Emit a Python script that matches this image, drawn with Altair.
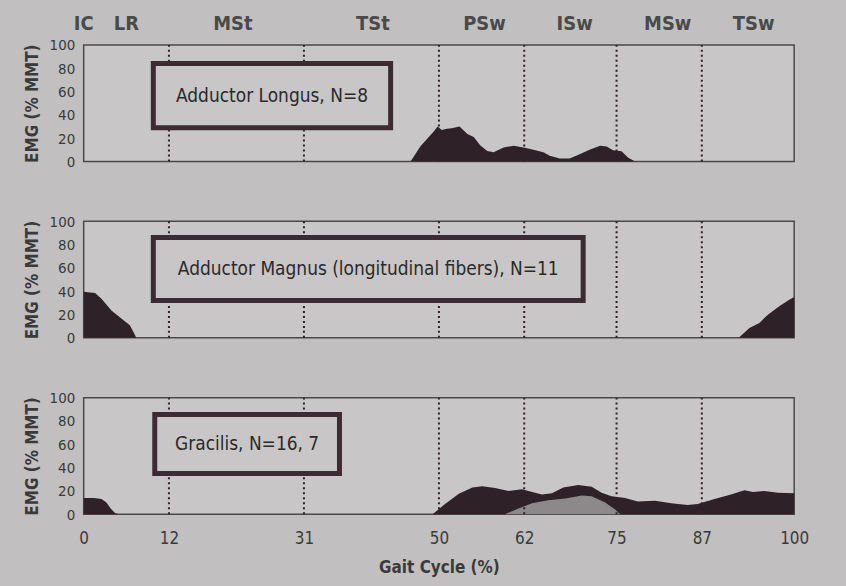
import altair as alt
import pandas as pd

# ---------------- data ----------------
tick_values = [0, 12, 31, 50, 62, 75, 87, 100]
phase_lines = [12, 31, 50, 62, 75, 87]
phase_names = ["IC", "LR", "MSt", "TSt", "PSw", "ISw", "MSw", "TSw"]
phase_pos = [0, 6, 21, 40.7, 56.4, 69.1, 82.2, 94.3]

# Adductor Longus
al_x = [46.0, 47.4, 49.3, 49.8, 50.4, 51.1, 51.8, 52.9, 54.0, 54.9, 55.8, 56.8, 57.7,
        59.1, 60.5, 61.9, 63.3, 64.7, 65.6, 67.0, 68.4, 69.8, 71.2, 72.7, 73.6, 74.5,
        75.7, 76.6, 77.6]
al_y = [0, 13, 26, 30, 27, 28, 28.5, 30, 23.5, 21, 14, 9, 8, 12, 13.5, 12, 10, 8, 4.8,
        2.6, 2.6, 6.2, 10, 13.5, 12.8, 9.6, 8.8, 3.5, 0]

# Adductor Magnus (longitudinal fibers)
am_x = [0, 1.6, 2.5, 3.9, 5.3, 6.5, 7.0, 7.4, 92.2, 93.7, 95.1, 96.3, 97.9, 99.3, 100]
am_y = [39.5, 38.5, 33.5, 23.5, 16.5, 10.8, 5, 0, 0, 8.5, 12.8, 19.9, 27, 32.6, 35]

# Gracilis (N=16, dark)
gr_x = [0, 1.5, 2.5, 3.2, 3.8, 4.4, 4.9, 49.1, 50.9, 52.8, 54.7, 56.1, 57.9, 59.8, 61.7,
        63.1, 64.5, 65.9, 67.5, 69.6, 71.5, 72.9, 74.3, 76.2, 78.0, 80.4, 82.7, 85.0,
        86.4, 88.8, 91.1, 93.0, 94.2, 95.8, 97.7, 100]
gr_y = [14, 14, 13, 10, 5, 1, 0, 0, 9, 17.5, 23, 24, 22.5, 20, 21.5, 19, 17, 18, 23, 25,
        23.5, 18.5, 15.5, 14, 11, 11.5, 9.5, 8, 8.8, 13, 17, 20.5, 19, 20, 18.5, 18]

# Gracilis (N=7, gray)
gr2_x = [59.3, 61.2, 63.1, 65.4, 67.8, 70.1, 71.5, 73.4, 74.8, 75.5]
gr2_y = [0, 5, 9.5, 12, 13.5, 16, 15.5, 10, 4, 0]

# label boxes: (x1, x2, y1, y2, text)
box_al = [9.8, 43.2, 29, 84, "Adductor Longus, N=8"]
box_am = [9.8, 70.3, 32, 86, "Adductor Magnus (longitudinal fibers), N=11"]
box_gr = [10.0, 36.0, 35, 85.5, "Gracilis, N=16, 7"]

# ---------------- style ----------------
FONT = "DejaVu Sans Condensed, Liberation Sans Narrow, Liberation Sans, sans-serif"
BG = "#c1bfbf"
VIEW = "#c8c6c6"
DARK = "#2e2228"
GRAY = "#8d888a"
TXT = "#3a3a3a"
W, H = 713, 117

xscale = alt.Scale(domain=[0, 100], nice=False, zero=False)
yscale = alt.Scale(domain=[0, 100], nice=False)

Y_AXIS = alt.Axis(values=[0, 20, 40, 60, 80, 100], title="EMG (% MMT)", grid=False,
                  ticks=False, domain=False, labelPadding=9, labelFont=FONT,
                  labelFontSize=15, labelColor=TXT, titleFont=FONT, titleFontSize=17,
                  titleFontWeight="bold", titleColor=TXT, titlePadding=8)
X_AXIS_FULL = alt.Axis(values=tick_values, title="Gait Cycle (%)", grid=False,
                       ticks=False, domain=False, labelPadding=16, labelFont=FONT,
                       labelFontSize=17, labelColor=TXT, titleFont=FONT,
                       titleFontSize=17, titleFontWeight="bold", titleColor=TXT,
                       titlePadding=13, labelFlush=False)
X_AXIS_BARE = alt.Axis(values=tick_values, title=None, labels=False, ticks=False,
                       grid=False, domain=False)


def panel(layers_data, box, show_x=False, top=False):
    xa = X_AXIS_FULL if show_x else X_AXIS_BARE

    def X(f):
        return alt.X(f, scale=xscale, axis=xa)

    def Y(f):
        return alt.Y(f, scale=yscale, axis=Y_AXIS)

    layers = []
    for xs, ys, col in layers_data:
        df = pd.DataFrame({"x": xs, "y": ys})
        layers.append(
            alt.Chart(df).mark_area(color=col, opacity=1, interpolate="linear").encode(
                x=X("x:Q"), y=Y("y:Q"))
        )
    rules = alt.Chart(pd.DataFrame({"x": phase_lines})).mark_rule(
        color=DARK, strokeDash=[2, 3], strokeWidth=2
    ).encode(x=X("x:Q"))
    bdf = pd.DataFrame({"x1": [box[0]], "x2": [box[1]], "y1": [box[2]], "y2": [box[3]],
                        "xm": [(box[0] + box[1]) / 2], "ym": [(box[2] + box[3]) / 2],
                        "t": [box[4]]})
    rect = alt.Chart(bdf).mark_rect(fill=VIEW, stroke="#3a2c32", strokeWidth=5).encode(
        x=X("x1:Q"), x2="x2:Q", y=Y("y1:Q"), y2="y2:Q")
    txt = alt.Chart(bdf).mark_text(font=FONT, fontSize=19, color="#2a2a2a").encode(
        x=X("xm:Q"), y=Y("ym:Q"), text="t:N")
    parts = layers + [rules, rect, txt]
    if top:
        pdf = pd.DataFrame({"x": phase_pos, "name": phase_names})
        parts.append(
            alt.Chart(pdf).mark_text(font=FONT, fontSize=20, fontWeight="bold",
                                     color="#4a4a4a").encode(
                x=X("x:Q"), y=alt.value(-21), text="name:N")
        )
    return alt.layer(*parts).properties(width=W, height=H)


p1 = panel([(al_x, al_y, DARK)], box_al, top=True)
p2 = panel([(am_x, am_y, DARK)], box_am)
p3 = panel([(gr_x, gr_y, DARK), (gr2_x, gr2_y, GRAY)], box_gr, show_x=True)

chart = alt.vconcat(p1, p2, p3, spacing=43).properties(
    background=BG,
    padding={"left": 22, "top": 12, "right": 36, "bottom": 10},
).configure_view(fill=VIEW, stroke="#4a4a4a", strokeWidth=1.5)

chart.save("out.html", embed_options={"renderer": "svg", "actions": False})
